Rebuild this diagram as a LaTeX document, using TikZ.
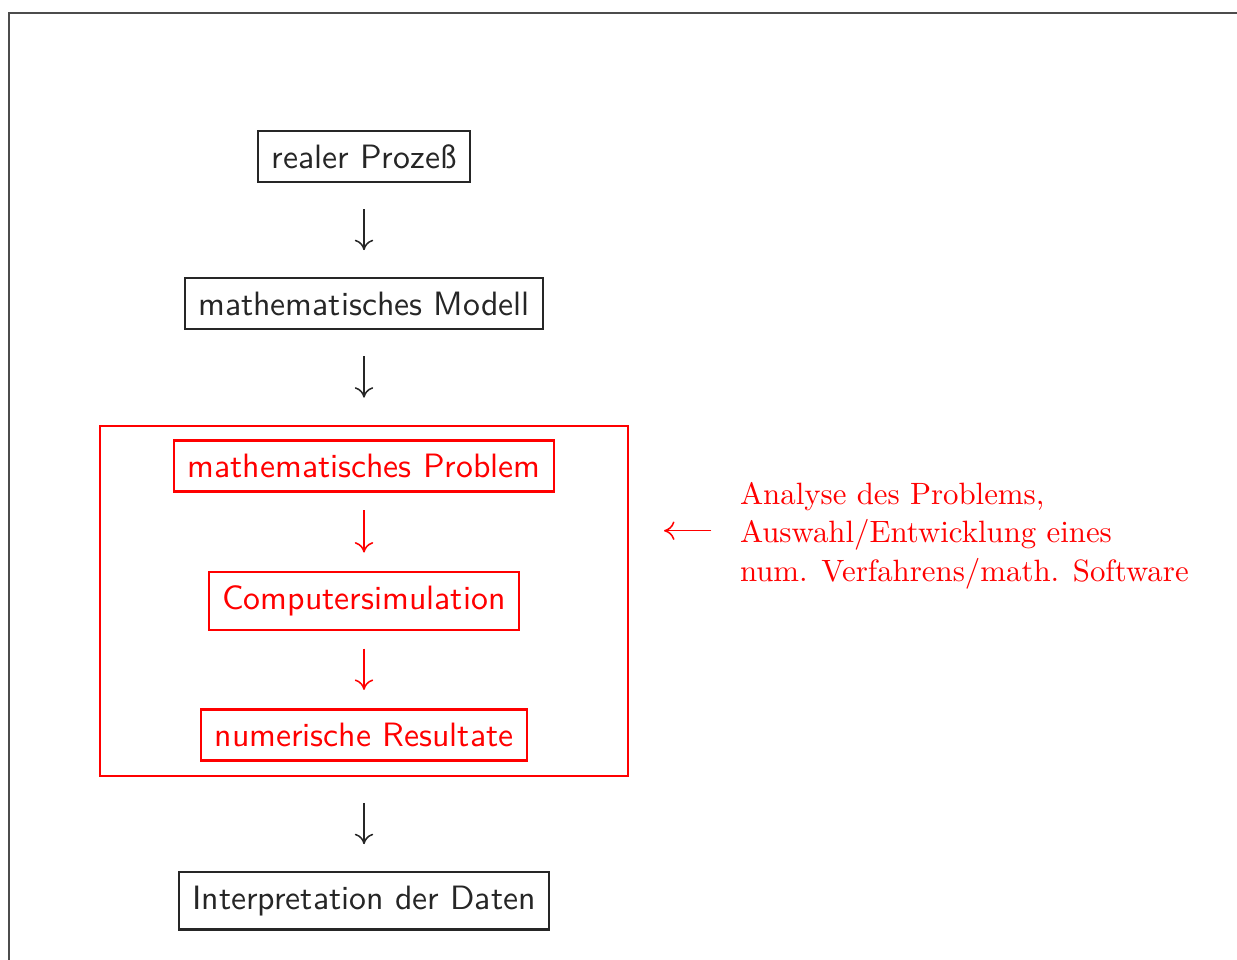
\documentclass[tikz,border=0pt]{standalone}
\usetikzlibrary{arrows.meta,positioning}
\tikzset{b/.style={draw=black!85,text=black!85,line width=.7pt,inner sep=4.4pt,font=\fontsize{10.95}{13.6}\selectfont\sffamily},rb/.style={b,draw=red,text=red},arr/.style={-{Computer Modern Rightarrow[length=3.4pt,width=6pt]},line width=.5pt,black!85,shorten <=8.4pt,shorten >=8.8pt},rarr/.style={arr,red,shorten <=5.8pt,shorten >=6pt}}
\begin{document}
\begin{tikzpicture}[x=1pt,y=-1pt]
\useasboundingbox(0,0)rectangle(401,311.2);
\draw[black!70,line width=.6pt](401,4.2)--(2.9,4.2)--(2.9,311.2);
\node[draw=red,line width=.7pt,minimum width=171.2pt,minimum height=113.5pt](grp)at(118,194.8){};
\node[b](real)at(118,50.7){realer Prozeß};
\node[b](modell)at(118,98.5){mathematisches Modell};
\node[rb](prob)at(118,151.05){mathematisches Problem};
\node[rb](comp)at(118,194.8){Computersimulation};
\node[rb](res)at(118,238.25){numerische Resultate};
\node[b](interp)at(118,292.06){Interpretation der Daten};
\node[red,anchor=north west,inner sep=0,align=left,font=\fontsize{10}{12.4}\selectfont](ana)at(239.7,156.2){Analyse des Problems,\\Auswahl/Entwicklung eines\\num. Verfahrens/math. Software};
\coordinate(ap)at([yshift=1.6pt]ana.west);
\foreach\a/\b in{real/modell,modell/grp,grp/interp}\draw[arr](\a)--(\b);
\foreach\a/\b in{prob/comp,comp/res}\draw[rarr](\a)--(\b);
\draw[rarr,shorten <=9.1pt,shorten >=11.3pt](ap)--(ap-|grp.east);
\end{tikzpicture}
\end{document}
